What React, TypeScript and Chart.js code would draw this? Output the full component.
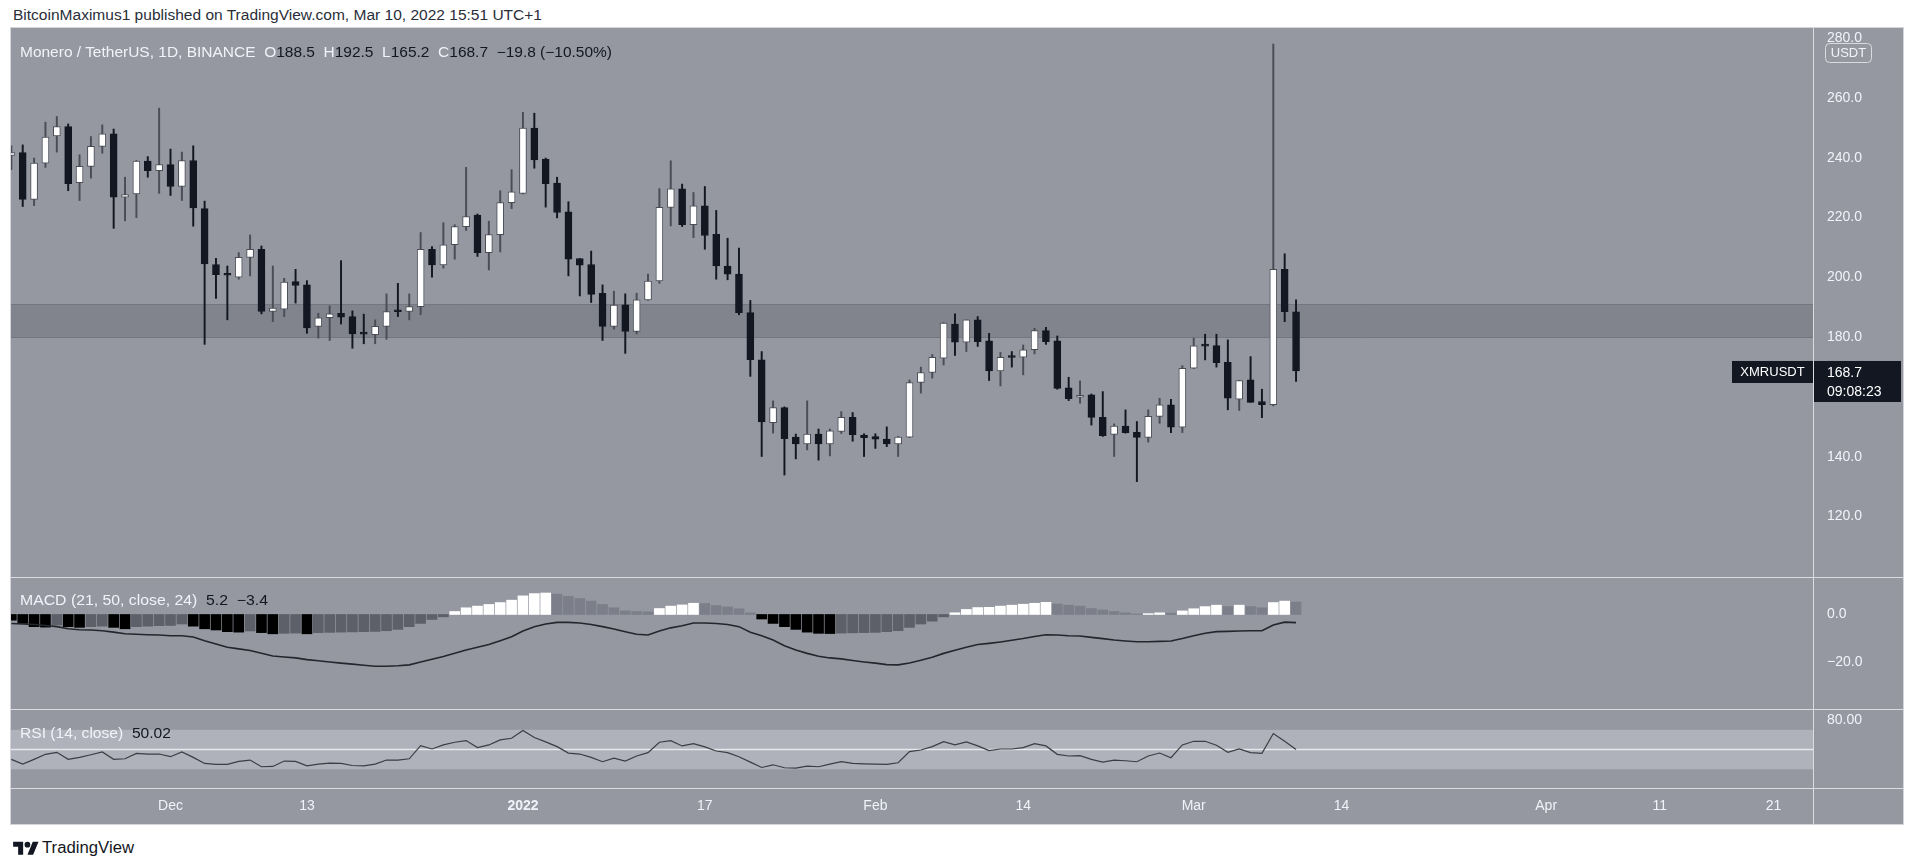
import React, { useEffect, useLayoutEffect, useRef } from 'react';
import { Chart, registerables } from 'chart.js';

Chart.register(...registerables);

const FONT = "'Liberation Sans', Arial, sans-serif";
const LIGHT = '#f0f3fa';
const DARK = '#131722';
const BG = '#9598a1';
const SEP = '#dadce1';

const publishLine = 'BitcoinMaximus1 published on TradingView.com, Mar 10, 2022 15:51 UTC+1';
const symbolName = 'Monero / TetherUS, 1D, BINANCE';
const tickerLabel = 'XMRUSDT';
const quoteLabel = 'USDT';
const countdownLabel = '09:08:23';
const macdTitle = 'MACD (21, 50, close, 24)';
const rsiTitle = 'RSI (14, close)';

// x = day index, 0 = 2021-11-17 (one daily candle per index)
const xTickDays = [14, 26, 45, 61, 76, 89, 104, 117, 135, 145, 155];
const xTickLabels = ['Dec', '13', '2022', '17', 'Feb', '14', 'Mar', '14', 'Apr', '11', '21'];
const xBoldTick = 45;
const xRange = [-0.03, 158.47];

const priceTicks = [120, 140, 160, 180, 200, 220, 240, 260, 280];
const priceRange = [99.8, 283.4];
const zoneLow = 180;
const zoneHigh = 191;

const macdTicks = [0, -20];
const macdRange = [-39.6, 15.7];
const rsiTicks = [80];
const rsiRange = [11.1, 91.1];
const rsiBand = [30, 70];
const rsiMid = 50;

const open = [
  240.8, 241.7, 226.1, 238.2, 247.3, 250.4, 231.7, 237.1, 243.8, 248.0,
  226.8, 227.9, 238.9, 235.7, 237.7, 230.4, 239.1, 223.0, 204.3, 201.0,
  200.1, 206.7, 209.4, 188.6, 189.4, 198.6, 197.5, 183.6, 186.5, 188.0,
  186.9, 181.1, 180.8, 183.6, 188.6, 188.6, 190.2, 209.4, 204.2, 210.9,
  217.0, 220.8, 208.3, 214.3, 225.0, 228.1, 249.9, 239.6, 231.5, 221.9,
  206.3, 204.3, 194.7, 183.6, 190.8, 181.9, 192.5, 198.8, 223.4, 229.6,
  217.6, 223.9, 214.4, 203.8, 201.1, 188.2, 172.4, 151.4, 156.5, 146.6,
  144.3, 147.6, 144.3, 148.5, 153.2, 147.3, 146.8, 145.9, 144.3, 146.6,
  164.9, 168.2, 173.0, 184.4, 178.3, 185.8, 178.8, 168.7, 173.4, 173.3,
  175.8, 182.2, 178.8, 163.1, 159.9, 160.7, 153.2, 147.5, 150.3, 148.2,
  146.5, 153.5, 157.4, 149.9, 169.6, 177.1, 177.2, 171.6, 159.3, 165.7,
  158.5, 157.4, 202.7, 188.5,
];
const high = [
  244.0, 244.3, 239.9, 251.9, 253.8, 251.3, 241.0, 247.1, 251.0, 249.6,
  233.5, 239.1, 240.4, 256.6, 242.9, 241.9, 244.0, 225.5, 206.4, 203.8,
  208.3, 214.2, 210.5, 203.8, 199.7, 202.7, 198.9, 188.0, 190.5, 205.6,
  188.8, 187.7, 185.8, 194.5, 198.0, 194.5, 215.0, 210.3, 218.3, 217.6,
  236.8, 221.2, 218.8, 229.0, 236.0, 255.2, 254.9, 239.9, 233.5, 225.3,
  206.3, 208.8, 197.5, 195.4, 194.5, 194.7, 201.1, 229.7, 239.0, 231.2,
  228.4, 230.4, 222.4, 213.1, 209.8, 192.3, 175.2, 158.7, 156.7, 147.6,
  158.7, 149.3, 149.3, 155.1, 154.8, 147.7, 147.7, 150.0, 146.8, 165.7,
  170.0, 174.2, 184.9, 187.8, 185.8, 186.9, 181.3, 174.9, 175.2, 177.4,
  183.0, 183.3, 180.4, 166.6, 165.4, 161.0, 161.8, 151.0, 155.7, 151.8,
  155.7, 159.6, 159.2, 170.5, 179.7, 181.0, 181.0, 179.1, 165.5, 173.5,
  162.6, 278.0, 207.9, 192.5,
];
const low = [
  236.0, 223.7, 224.0, 236.8, 241.9, 229.0, 225.7, 233.2, 241.5, 216.4,
  218.9, 220.0, 233.5, 228.1, 227.4, 225.7, 217.1, 177.6, 193.0, 185.8,
  199.4, 200.5, 187.8, 185.2, 186.9, 191.4, 181.3, 179.7, 178.9, 184.4,
  176.3, 177.8, 177.8, 179.3, 186.9, 185.8, 187.5, 200.1, 203.1, 206.1,
  215.7, 207.0, 202.5, 208.5, 223.0, 227.9, 236.5, 223.5, 219.9, 200.5,
  193.8, 191.6, 178.9, 182.7, 174.6, 181.1, 192.3, 198.0, 217.2, 217.0,
  213.3, 209.4, 199.4, 199.2, 187.5, 166.9, 140.1, 147.9, 133.9, 139.3,
  142.3, 138.9, 140.3, 147.8, 145.2, 140.1, 142.8, 143.4, 140.1, 146.4,
  161.3, 166.3, 170.7, 173.9, 175.2, 176.9, 165.5, 163.7, 170.0, 167.4,
  174.4, 177.6, 162.6, 158.8, 157.9, 150.6, 146.8, 140.1, 147.9, 131.7,
  144.9, 151.2, 148.1, 148.1, 169.5, 172.4, 170.0, 155.7, 155.5, 158.2,
  153.1, 157.0, 185.2, 165.2,
];
const close = [
  241.7, 226.1, 238.2, 246.9, 250.4, 231.3, 237.1, 243.8, 248.0, 226.8,
  227.7, 238.9, 235.7, 237.7, 230.4, 239.1, 223.2, 204.5, 200.9, 200.7,
  206.7, 209.4, 188.6, 189.7, 198.4, 197.3, 183.1, 186.5, 187.8, 186.7,
  181.1, 181.0, 183.6, 188.6, 188.5, 190.2, 209.4, 204.2, 210.9, 217.0,
  220.3, 208.3, 214.3, 225.0, 228.6, 249.9, 239.3, 231.3, 221.7, 206.1,
  204.1, 194.3, 183.6, 190.7, 181.9, 192.5, 198.8, 223.4, 229.6, 217.6,
  223.9, 214.0, 203.8, 201.1, 188.2, 172.5, 151.7, 156.5, 146.1, 144.3,
  147.6, 144.3, 148.7, 153.2, 147.4, 146.4, 145.9, 144.3, 146.6, 164.8,
  168.2, 173.3, 184.7, 178.3, 185.8, 178.5, 168.7, 173.3, 173.2, 175.8,
  182.2, 178.5, 162.9, 159.4, 160.5, 153.2, 147.1, 150.3, 148.1, 146.5,
  153.5, 157.4, 149.9, 169.6, 177.1, 177.0, 171.5, 159.6, 165.5, 158.2,
  157.4, 202.7, 188.5, 168.7,
];

const macdHist = [
  -2.4, -3.75, -5.1, -5.3, -4.4, -5.1, -5.4, -5.1, -4.9, -5.4,
  -6.0, -5.1, -4.9, -4.7, -4.6, -4.0, -4.9, -6.0, -6.5, -7.2,
  -7.4, -6.9, -7.6, -8.1, -7.9, -7.8, -8.1, -7.6, -7.5, -7.4,
  -7.3, -7.2, -7.1, -6.8, -6.25, -5.1, -3.75, -2.1, -1.0, 1.25,
  2.8, 3.5, 4.2, 5.0, 6.0, 7.8, 8.75, 9.0, 8.5, 7.6,
  6.7, 5.6, 4.2, 2.8, 1.5, 1.25, 1.1, 2.5, 3.5, 4.0,
  4.7, 4.6, 3.75, 3.2, 2.4, 0.7, -1.9, -3.75, -5.1, -6.25,
  -7.4, -7.9, -8.0, -7.8, -7.7, -7.6, -7.5, -7.2, -6.8, -5.4,
  -4.0, -2.8, -1.0, 0.7, 2.1, 2.9, 3.0, 3.5, 3.9, 4.3,
  4.7, 5.1, 4.4, 3.9, 3.5, 2.5, 1.9, 1.25, 0.7, 0.25,
  0.35, 0.7, 0.55, 1.5, 2.4, 3.3, 3.9, 3.3, 3.9, 3.3,
  2.8, 5.0, 5.6, 5.2,
];
const macdLine = [
  -3.75, -4.0, -4.2, -4.6, -5.1, -6.0, -6.4, -6.5, -6.8, -7.4,
  -8.1, -8.3, -8.5, -8.6, -8.9, -8.9, -9.4, -11.0, -12.4, -13.75,
  -14.4, -15.1, -16.25, -17.4, -17.8, -18.2, -18.9, -19.4, -19.9, -20.4,
  -20.8, -21.25, -21.7, -21.7, -21.5, -21.1, -19.9, -18.75, -17.6, -16.25,
  -14.9, -13.75, -12.6, -11.0, -9.3, -6.9, -5.1, -4.0, -3.3, -3.3,
  -3.6, -4.2, -5.1, -6.1, -7.2, -8.3, -8.6, -6.9, -5.6, -4.7,
  -3.6, -3.6, -3.75, -4.2, -5.1, -7.4, -8.9, -10.7, -13.1, -14.9,
  -16.3, -17.5, -18.2, -18.6, -19.3, -19.9, -20.4, -21.0, -21.1, -20.3,
  -19.2, -17.9, -16.3, -15.0, -13.75, -12.6, -12.1, -11.5, -10.8, -10.1,
  -9.2, -8.5, -8.6, -8.9, -9.0, -9.6, -10.1, -10.7, -11.1, -11.4,
  -11.4, -11.25, -11.1, -10.1, -8.9, -7.9, -7.2, -7.1, -6.9, -6.8,
  -6.8, -4.4, -3.2, -3.4,
];
const rsi = [
  40.1, 35.3, 40.1, 45.2, 47.2, 40.1, 42.1, 44.8, 47.6, 40.1,
  40.7, 46.2, 45.5, 45.5, 42.8, 47.6, 42.1, 36.0, 35.0, 35.0,
  38.0, 39.4, 32.6, 32.9, 38.4, 38.0, 33.6, 35.3, 36.3, 36.0,
  33.9, 33.6, 35.3, 39.4, 39.4, 40.7, 54.0, 50.6, 54.7, 57.4,
  59.1, 52.0, 54.7, 59.8, 61.5, 69.3, 62.2, 57.8, 53.0, 46.5,
  45.5, 42.1, 37.7, 41.4, 38.4, 43.5, 46.9, 57.4, 59.1, 53.7,
  56.0, 52.7, 48.6, 46.9, 42.8, 37.3, 31.9, 34.6, 31.6, 31.2,
  33.3, 32.6, 35.3, 37.7, 36.0, 35.6, 35.3, 35.0, 36.7, 47.9,
  49.6, 53.0, 58.1, 54.7, 57.8, 53.7, 48.9, 50.6, 50.6, 52.0,
  56.1, 53.7, 45.2, 43.5, 43.8, 40.1, 37.3, 39.4, 38.7, 37.7,
  43.5, 46.5, 41.8, 54.7, 58.4, 58.4, 54.4, 47.2, 50.6, 46.9,
  46.2, 66.3, 58.4, 50.02,
];

// ---------- layout ----------
const FRAME_L = 11;
const FRAME_W = 1892;
const AXIS_W = 90;
const MAIN_T = 28;
const MAIN_H = 549;
const MACD_T = 577;
const MACD_H = 132;
const RSI_T = 709;
const RSI_H = 115;
const XAXIS_H = 36;

const fmt = (v: number, d: number) => (v < 0 ? '\u2212' : '') + Math.abs(v).toFixed(d);

const UP_FILL = '#ffffff';
const UP_LINE = '#4a4d56';
const DN_FILL = '#131722';
const HIST_UP_GROW = '#ffffff';
const HIST_UP_FALL = '#7c7f89';
const HIST_DN_GROW = '#000000';
const HIST_DN_FALL = '#5d6069';

function yAxis(range: number[], ticks: number[], decimals: number): any {
  return {
    position: 'right',
    min: range[0],
    max: range[1],
    grid: { display: false, drawTicks: false },
    border: { display: false },
    ticks: {
      color: LIGHT,
      padding: 14,
      autoSkip: false,
      font: { family: FONT, size: 14 },
      callback: (v: any) => fmt(Number(v), decimals),
    },
    afterBuildTicks: (s: any) => {
      s.ticks = ticks.map((v) => ({ value: v }));
    },
    afterFit: (s: any) => {
      s.width = AXIS_W;
      s.paddingTop = 0;
      s.paddingBottom = 0;
    },
  };
}

function xAxis(show: boolean): any {
  return {
    type: 'linear',
    min: xRange[0],
    max: xRange[1],
    offset: false,
    display: show,
    grid: { display: false, drawTicks: false },
    border: { display: false },
    ticks: {
      color: LIGHT,
      padding: 10,
      autoSkip: false,
      maxRotation: 0,
      font: (c: any) => ({
        family: FONT,
        size: 14,
        weight: c.tick && c.tick.value === xBoldTick ? 'bold' : 'normal',
      }),
      callback: (v: any) => {
        const k = xTickDays.indexOf(Number(v));
        return k >= 0 ? xTickLabels[k] : '';
      },
    },
    afterBuildTicks: (s: any) => {
      s.ticks = xTickDays.map((v) => ({ value: v }));
    },
    afterFit: (s: any) => {
      s.height = show ? XAXIS_H : 0;
      s.paddingLeft = 0;
      s.paddingRight = 0;
    },
  };
}

const basePlugins = { legend: { display: false }, tooltip: { enabled: false } };

const zonePlugin = {
  id: 'zone',
  beforeDatasetsDraw(chart: any) {
    const { ctx, chartArea, scales } = chart;
    const t = scales.y.getPixelForValue(zoneHigh);
    const b = scales.y.getPixelForValue(zoneLow);
    ctx.save();
    ctx.fillStyle = '#81848c';
    ctx.fillRect(chartArea.left, t, chartArea.right - chartArea.left, b - t);
    ctx.strokeStyle = '#74777f';
    ctx.lineWidth = 1;
    ctx.beginPath();
    ctx.moveTo(chartArea.left, Math.round(t) + 0.5);
    ctx.lineTo(chartArea.right, Math.round(t) + 0.5);
    ctx.moveTo(chartArea.left, Math.round(b) + 0.5);
    ctx.lineTo(chartArea.right, Math.round(b) + 0.5);
    ctx.stroke();
    ctx.restore();
  },
};

const lastPricePlugin = {
  id: 'lastPrice',
  afterDraw(chart: any) {
    const { ctx, chartArea, scales } = chart;
    const last = close[close.length - 1];
    const y = scales.y.getPixelForValue(last);
    const r = chartArea.right;
    ctx.save();
    ctx.fillStyle = DARK;
    ctx.fillRect(r - 81, y - 10, 81, 22);
    ctx.fillRect(r, y - 10, 88, 41);
    ctx.fillStyle = '#ffffff';
    ctx.font = `13px ${FONT}`;
    ctx.textBaseline = 'middle';
    ctx.textAlign = 'center';
    ctx.fillText(tickerLabel, r - 40.5, y + 1);
    ctx.textAlign = 'left';
    ctx.font = `14px ${FONT}`;
    ctx.fillText(last.toFixed(1), r + 14, y + 2);
    ctx.fillText(countdownLabel, r + 14, y + 21);
    // quote currency badge
    const bx = r + 12, by = 15, bw = 46, bh = 19;
    ctx.strokeStyle = '#d9dbe0';
    ctx.lineWidth = 1;
    ctx.beginPath();
    (ctx as any).roundRect(bx + 0.5, by + 0.5, bw, bh, 4);
    ctx.stroke();
    ctx.fillStyle = LIGHT;
    ctx.font = `13px ${FONT}`;
    ctx.textAlign = 'center';
    ctx.fillText(quoteLabel, bx + bw / 2 + 0.5, by + bh / 2 + 1);
    ctx.restore();
  },
};

const rsiBandPlugin = {
  id: 'rsiBand',
  beforeDatasetsDraw(chart: any) {
    const { ctx, chartArea, scales } = chart;
    const t = scales.y.getPixelForValue(rsiBand[1]);
    const b = scales.y.getPixelForValue(rsiBand[0]);
    const m = scales.y.getPixelForValue(rsiMid);
    ctx.save();
    ctx.fillStyle = '#afb2ba';
    ctx.fillRect(chartArea.left, t, chartArea.right - chartArea.left, b - t);
    ctx.strokeStyle = '#e6e8ec';
    ctx.lineWidth = 1.5;
    ctx.beginPath();
    ctx.moveTo(chartArea.left, m);
    ctx.lineTo(chartArea.right, m);
    ctx.stroke();
    ctx.restore();
  },
};

function makeMain(): any {
  const isUp = open.map((o, i) => close[i] >= o);
  return {
    type: 'bar',
    data: {
      datasets: [
        {
          data: open.map((o, i) => ({ x: i, y: [o, close[i]] })),
          backgroundColor: isUp.map((u) => (u ? UP_FILL : DN_FILL)),
          borderColor: isUp.map((u) => (u ? UP_LINE : DN_FILL)),
          borderWidth: 1,
          borderSkipped: false,
          barThickness: 7,
          minBarLength: 2,
          grouped: false,
          order: 0,
        },
        {
          data: low.map((l, i) => ({ x: i, y: [l, high[i]] })),
          backgroundColor: isUp.map((u) => (u ? UP_LINE : DN_FILL)),
          borderWidth: 0,
          barThickness: 1.3,
          grouped: false,
          order: 1,
        },
      ],
    },
    options: {
      responsive: true,
      maintainAspectRatio: false,
      animation: false,
      events: [],
      layout: { padding: 0 },
      plugins: basePlugins,
      scales: { x: xAxis(false), y: yAxis(priceRange, priceTicks, 1) },
    },
    plugins: [zonePlugin, lastPricePlugin],
  };
}

function makeMacd(): any {
  const colors = macdHist.map((v, i) => {
    const prev = i > 0 ? macdHist[i - 1] : v;
    if (v >= 0) return v >= prev ? HIST_UP_GROW : HIST_UP_FALL;
    return v <= prev ? HIST_DN_GROW : HIST_DN_FALL;
  });
  return {
    type: 'bar',
    data: {
      datasets: [
        {
          type: 'line',
          data: macdLine.map((v, i) => ({ x: i, y: v })),
          borderColor: '#24262d',
          borderWidth: 1.6,
          pointRadius: 0,
          tension: 0,
          order: 0,
        },
        {
          type: 'bar',
          data: macdHist.map((v, i) => ({ x: i, y: v })),
          backgroundColor: colors,
          borderWidth: 0,
          barThickness: 10,
          grouped: false,
          order: 1,
        },
      ],
    },
    options: {
      responsive: true,
      maintainAspectRatio: false,
      animation: false,
      events: [],
      layout: { padding: 0 },
      plugins: basePlugins,
      scales: { x: xAxis(false), y: yAxis(macdRange, macdTicks, 1) },
    },
  };
}

function makeRsi(): any {
  return {
    type: 'line',
    data: {
      datasets: [
        {
          data: rsi.map((v, i) => ({ x: i, y: v })),
          borderColor: '#3b3d45',
          borderWidth: 1.2,
          pointRadius: 0,
          tension: 0,
        },
      ],
    },
    options: {
      responsive: true,
      maintainAspectRatio: false,
      animation: false,
      events: [],
      layout: { padding: 0 },
      plugins: basePlugins,
      scales: { x: xAxis(true), y: yAxis(rsiRange, rsiTicks, 2) },
    },
    plugins: [rsiBandPlugin],
  };
}

function ChartBox({ make, top, height }: { make: () => any; top: number; height: number }) {
  const ref = useRef<HTMLCanvasElement>(null);
  useEffect(() => {
    const chart = new Chart(ref.current as HTMLCanvasElement, make());
    return () => chart.destroy();
  }, []);
  return (
    <div style={{ position: 'absolute', left: FRAME_L, top, width: FRAME_W, height }}>
      <canvas ref={ref} />
    </div>
  );
}

function FitText({ width, children, style }: { width: number; children: any; style?: any }) {
  const ref = useRef<HTMLSpanElement>(null);
  useLayoutEffect(() => {
    const el = ref.current;
    if (!el) return;
    el.style.transform = 'none';
    const w = el.getBoundingClientRect().width;
    if (w > 0) el.style.transform = `scaleX(${width / w})`;
  }, [width]);
  return (
    <span
      ref={ref}
      style={{ display: 'inline-block', whiteSpace: 'pre', transformOrigin: '0 50%', ...style }}
    >
      {children}
    </span>
  );
}

function Label({ left, centerY, size, width, children }: any) {
  return (
    <div
      style={{
        position: 'absolute',
        left,
        top: centerY - 10,
        height: 20,
        lineHeight: '20px',
        fontSize: size,
        fontFamily: FONT,
        whiteSpace: 'pre',
        zIndex: 5,
      }}
    >
      <FitText width={width}>{children}</FitText>
    </div>
  );
}

function HLine({ y }: { y: number }) {
  return (
    <div style={{ position: 'absolute', left: FRAME_L, top: y, width: FRAME_W, height: 1, background: SEP, zIndex: 4 }} />
  );
}

export default function App() {
  const n = close.length;
  const chg = close[n - 1] - close[n - 2];
  const pct = (chg / close[n - 2]) * 100;
  const L = { color: LIGHT };
  const D = { color: DARK };
  return (
    <div
      style={{
        position: 'fixed',
        left: 0,
        top: 0,
        width: 1915,
        height: 866,
        background: '#ffffff',
        overflow: 'hidden',
        fontFamily: FONT,
      }}
    >
      <Label left={13} centerY={15} size={14} width={529}>
        <span style={{ color: '#2a2e39' }}>{publishLine}</span>
      </Label>

      <div
        style={{
          position: 'absolute',
          left: FRAME_L - 1,
          top: MAIN_T - 1,
          width: FRAME_W,
          height: RSI_T + RSI_H - MAIN_T,
          background: BG,
          border: '1px solid #d3d5da',
        }}
      />

      <ChartBox make={makeMain} top={MAIN_T} height={MAIN_H} />
      <ChartBox make={makeMacd} top={MACD_T} height={MACD_H} />
      <ChartBox make={makeRsi} top={RSI_T} height={RSI_H} />

      <HLine y={MACD_T} />
      <HLine y={RSI_T} />
      <HLine y={RSI_T + RSI_H - XAXIS_H} />
      <div
        style={{
          position: 'absolute',
          left: FRAME_L + FRAME_W - AXIS_W,
          top: MAIN_T,
          width: 1,
          height: RSI_T + RSI_H - MAIN_T,
          background: SEP,
          zIndex: 4,
        }}
      />

      <Label left={20} centerY={52} size={14} width={592}>
        <span style={L}>{symbolName}</span>
        <span style={L}>{'  O'}</span>
        <span style={D}>{open[n - 1].toFixed(1)}</span>
        <span style={L}>{'  H'}</span>
        <span style={D}>{high[n - 1].toFixed(1)}</span>
        <span style={L}>{'  L'}</span>
        <span style={D}>{low[n - 1].toFixed(1)}</span>
        <span style={L}>{'  C'}</span>
        <span style={D}>{close[n - 1].toFixed(1)}</span>
        <span style={D}>{'  ' + fmt(chg, 1) + ' (' + fmt(pct, 2) + '%)'}</span>
      </Label>

      <Label left={20} centerY={600} size={14} width={248}>
        <span style={L}>{macdTitle}</span>
        <span style={D}>{'  ' + fmt(macdHist[n - 1], 1) + '  ' + fmt(macdLine[n - 1], 1)}</span>
      </Label>

      <Label left={20} centerY={733} size={14} width={151}>
        <span style={L}>{rsiTitle}</span>
        <span style={D}>{'  ' + rsi[n - 1].toFixed(2)}</span>
      </Label>

      <svg
        style={{ position: 'absolute', left: 12.5, top: 839, zIndex: 5 }}
        width={26}
        height={20}
        viewBox="0 0 36 28"
      >
        <path d="M14 22H7V11H0V4h14v18zM28 22h-8l7.5-18h8L28 22z" fill={DARK} />
        <circle cx="20" cy="8" r="4" fill={DARK} />
      </svg>
      <Label left={42} centerY={848} size={16} width={92}>
        <span style={{ color: DARK }}>TradingView</span>
      </Label>
    </div>
  );
}
